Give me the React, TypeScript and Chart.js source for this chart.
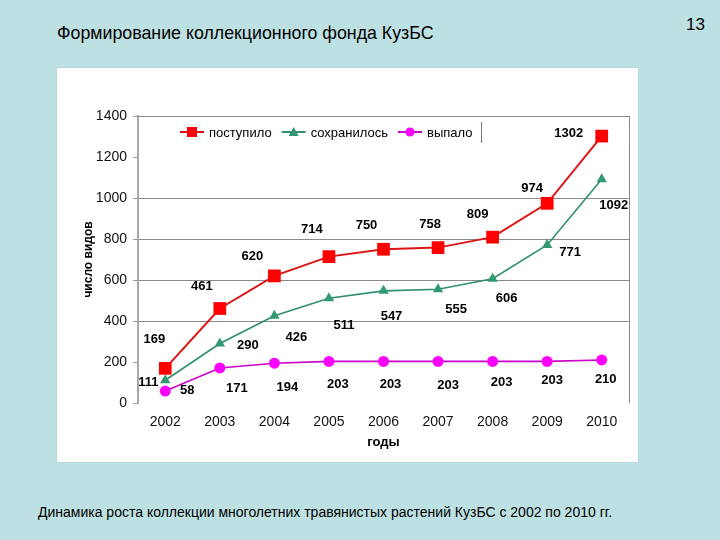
import React, { useEffect, useRef } from "react";
import { Chart, registerables } from "chart.js";

Chart.register(...registerables);

const years = ["2002", "2003", "2004", "2005", "2006", "2007", "2008", "2009", "2010"];
const received = [169, 461, 620, 714, 750, 758, 809, 974, 1302];
const kept = [111, 290, 426, 511, 547, 555, 606, 771, 1092];
const dropped = [58, 171, 194, 203, 203, 203, 203, 203, 210];
const seriesNames = ["поступило", "сохранилось", "выпало"];
const yMin = 0;
const yMax = 1400;
const yStep = 200;
const hiddenGridValues = [200, 1200];

const titleText = "Формирование коллекционного фонда КузБС";
const pageNumber = "13";
const captionText = "Динамика роста коллекции многолетних травянистых растений КузБС с 2002 по 2010 гг.";
const yTitle = "число видов";
const xTitle = "годы";

// label offsets relative to each point (styling)
const receivedDx = [-11, -18, -22, -17, -17, -8, -15, -15, -33];
const receivedDy = [-29, -22, -19, -27, -24, -23, -23, -15, -3];
const keptDx = [-17, 28, 22, 15, 8, 18, 14, 23, 12];
const keptDy = [2, 2, 22, 27, 26, 20, 20, 7, 26];
const droppedDx = [22, 17, 13, 9, 7, 10, 9, 5, 4];
const droppedDy = [-1, 20, 24, 23, 23, 24, 21, 19, 19];

const COLORS = {
  redLine: "#dc1414",
  red: "#ff0000",
  greenLine: "#2f8f6f",
  green: "#339970",
  magentaLine: "#cc00cc",
  magenta: "#ff00ff",
};

const FONT = "'Liberation Sans', Arial, sans-serif";

const labelsPlugin = {
  id: "dataLabels",
  afterDatasetsDraw(chart: any) {
    const ctx = chart.ctx;
    const offs = [
      [receivedDx, receivedDy],
      [keptDx, keptDy],
      [droppedDx, droppedDy],
    ];
    ctx.save();
    ctx.font = `bold 13px ${FONT}`;
    ctx.fillStyle = "#000";
    ctx.textAlign = "center";
    ctx.textBaseline = "middle";
    chart.data.datasets.forEach((ds: any, di: number) => {
      const meta = chart.getDatasetMeta(di);
      meta.data.forEach((pt: any, i: number) => {
        ctx.fillText(String(ds.data[i]), pt.x + offs[di][0][i], pt.y + offs[di][1][i]);
      });
    });
    ctx.restore();
  },
};

const framePlugin = {
  id: "frameAndLegend",
  beforeDatasetsDraw(chart: any) {
    const { ctx, chartArea } = chart;
    ctx.save();
    ctx.strokeStyle = "#8a8a8a";
    ctx.lineWidth = 1;
    ctx.beginPath();
    ctx.moveTo(Math.round(chartArea.right) + 0.5, chartArea.top);
    ctx.lineTo(Math.round(chartArea.right) + 0.5, chartArea.bottom);
    ctx.stroke();
    ctx.restore();
  },
  afterDraw(chart: any) {
    const { ctx, chartArea } = chart;
    ctx.save();
    // axis titles
    ctx.fillStyle = "#000";
    ctx.font = `bold 12px ${FONT}`;
    ctx.textAlign = "center";
    ctx.textBaseline = "middle";
    ctx.save();
    ctx.translate(32, (chartArea.top + chartArea.bottom) / 2 + 0);
    ctx.rotate(-Math.PI / 2);
    ctx.fillText(yTitle, 0, 0);
    ctx.restore();
    ctx.font = `bold 13px ${FONT}`;
    ctx.fillText(xTitle, (chartArea.left + chartArea.right) / 2 - 0, chartArea.bottom + 39);

    // legend
    const y = chartArea.top + 16;
    let x = chartArea.left + 42;
    ctx.font = `13px ${FONT}`;
    ctx.textAlign = "left";
    const items = [
      { line: COLORS.redLine, fill: COLORS.red, shape: "rect" },
      { line: COLORS.greenLine, fill: COLORS.green, shape: "tri" },
      { line: COLORS.magentaLine, fill: COLORS.magenta, shape: "circle" },
    ];
    items.forEach((it, i) => {
      ctx.strokeStyle = it.line;
      ctx.lineWidth = 2;
      ctx.beginPath();
      ctx.moveTo(x, y);
      ctx.lineTo(x + 24, y);
      ctx.stroke();
      const cx = x + 12;
      ctx.fillStyle = it.fill;
      ctx.beginPath();
      if (it.shape === "rect") {
        ctx.rect(cx - 5, y - 5, 10, 10);
      } else if (it.shape === "tri") {
        ctx.moveTo(cx, y - 5);
        ctx.lineTo(cx + 5, y + 4);
        ctx.lineTo(cx - 5, y + 4);
        ctx.closePath();
      } else {
        ctx.arc(cx, y, 4.5, 0, Math.PI * 2);
      }
      ctx.fill();
      ctx.fillStyle = "#000";
      const tx = x + 29;
      ctx.fillText(seriesNames[i], tx, y + 1);
      x = tx + ctx.measureText(seriesNames[i]).width + 10;
    });
    ctx.strokeStyle = "#777";
    ctx.lineWidth = 1;
    ctx.beginPath();
    ctx.moveTo(Math.round(x - 1) + 0.5, y - 10);
    ctx.lineTo(Math.round(x - 1) + 0.5, y + 11);
    ctx.stroke();
    ctx.restore();
  },
};

function LineChart() {
  const ref = useRef<HTMLCanvasElement | null>(null);
  useEffect(() => {
    if (!ref.current) return;
    const chart = new Chart(ref.current, {
      type: "line",
      data: {
        labels: years,
        datasets: [
          {
            label: seriesNames[0],
            data: received,
            borderColor: COLORS.redLine,
            backgroundColor: COLORS.red,
            borderWidth: 2,
            pointStyle: "rect",
            pointRadius: 9,
            pointBorderColor: COLORS.red,
            pointBackgroundColor: COLORS.red,
            pointBorderWidth: 0,
          },
          {
            label: seriesNames[1],
            data: kept,
            borderColor: COLORS.greenLine,
            backgroundColor: COLORS.green,
            borderWidth: 1.6,
            pointStyle: "triangle",
            pointRadius: 6,
            pointBorderColor: COLORS.green,
            pointBackgroundColor: COLORS.green,
            pointBorderWidth: 0,
          },
          {
            label: seriesNames[2],
            data: dropped,
            borderColor: COLORS.magentaLine,
            backgroundColor: COLORS.magenta,
            borderWidth: 1.6,
            pointStyle: "circle",
            pointRadius: 5.5,
            pointBorderColor: COLORS.magenta,
            pointBackgroundColor: COLORS.magenta,
            pointBorderWidth: 0,
          },
        ],
      },
      options: {
        animation: false,
        responsive: false,
        maintainAspectRatio: false,
        layout: { padding: { top: 48, right: 8, left: 0, bottom: 0 } },
        plugins: { legend: { display: false }, tooltip: { enabled: false } },
        scales: {
          x: {
            offset: true,
            grid: { display: false, drawTicks: false },
            border: { display: false },
            ticks: { color: "#111", font: { family: FONT, size: 14 }, padding: 11, maxRotation: 0 },
            afterFit(scale: any) {
              scale.height = 59;
            },
          },
          y: {
            min: yMin,
            max: yMax,
            ticks: {
              stepSize: yStep,
              color: "#111",
              font: { family: FONT, size: 14 },
              padding: 6,
              callback: (v: any) => String(v),
            },
            grid: {
              color: (c: any) =>
                hiddenGridValues.includes(c.tick?.value) || c.tick?.value === 0 ? "rgba(0,0,0,0)" : "#8a8a8a",
              tickColor: "#9a9a9a",
              tickLength: 5,
              lineWidth: 1,
            },
            border: { display: true, color: "#a8a8a8", width: 2 },
            afterFit(scale: any) {
              scale.width = 81;
            },
          },
        },
      },
      plugins: [framePlugin, labelsPlugin],
    });
    return () => chart.destroy();
  }, []);
  return <canvas ref={ref} width={581} height={394} style={{ width: 581, height: 394, display: "block" }} />;
}

export default function App() {
  return (
    <div
      style={{
        position: "fixed",
        left: 0,
        top: 0,
        width: 720,
        height: 540,
        background: "#bde0e3",
        fontFamily: FONT,
        overflow: "hidden",
      }}
    >
      <div style={{ position: "absolute", left: 57, top: 22, fontSize: 17.8, lineHeight: "22px", color: "#000", whiteSpace: "nowrap" }}>
        {titleText}
      </div>
      <div style={{ position: "absolute", left: 686, top: 14, fontSize: 17, lineHeight: "22px", color: "#000" }}>{pageNumber}</div>
      <div
        style={{
          position: "absolute",
          left: 57,
          top: 68,
          width: 581,
          height: 394,
          background: "#fff",
          boxShadow: "0 0 1px rgba(120,160,160,0.6)",
        }}
      >
        <LineChart />
      </div>
      <div style={{ position: "absolute", left: 38, top: 502, fontSize: 14, lineHeight: "20px", color: "#000", whiteSpace: "nowrap" }}>
        {captionText}
      </div>
    </div>
  );
}
